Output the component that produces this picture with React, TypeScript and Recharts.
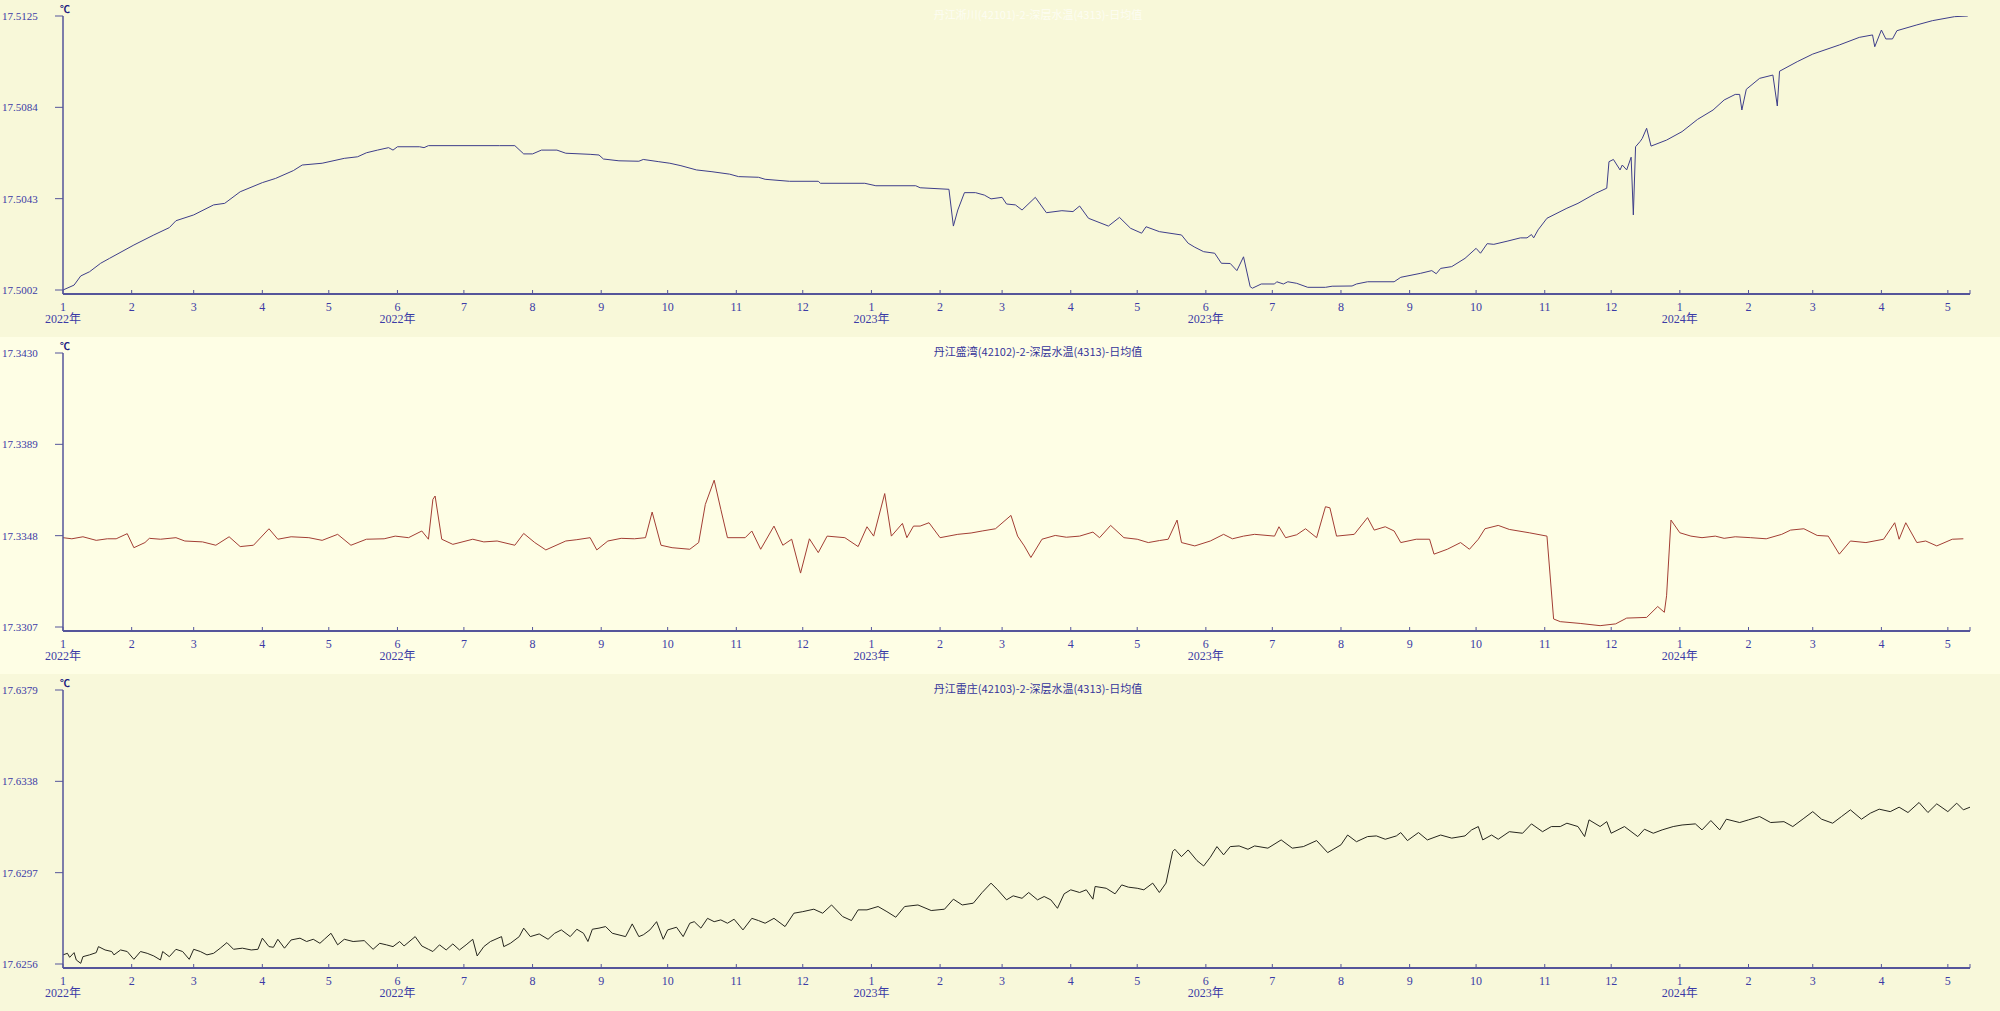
import React from 'react';
import { LineChart, Line, XAxis, YAxis } from 'recharts';

// day index = days since 2022-01-01
const monthDays = [0, 31, 59, 90, 120, 151, 181, 212, 243, 273, 304, 334, 365, 396, 424, 455, 485, 516, 546, 577, 608, 638, 669, 699, 730, 761, 790, 821, 851, 861];
const monthLabels = ['1', '2', '3', '4', '5', '6', '7', '8', '9', '10', '11', '12', '1', '2', '3', '4', '5', '6', '7', '8', '9', '10', '11', '12', '1', '2', '3', '4', '5', ''];
const yearLabels = ['2022年', '', '', '', '', '2022年', '', '', '', '', '', '', '2023年', '', '', '', '', '2023年', '', '', '', '', '', '', '2024年', '', '', '', '', ''];

const titles = [
  '丹江淅川(42101)-2-深层水温(4313)-日均值',
  '丹江盛湾(42102)-2-深层水温(4313)-日均值',
  '丹江雷庄(42103)-2-深层水温(4313)-日均值',
];

const topTicks = [17.5002, 17.5043, 17.5084, 17.5125];
const midTicks = [17.3307, 17.3348, 17.3389, 17.343];
const lowTicks = [17.6256, 17.6297, 17.6338, 17.6379];

const topDays = [0, 5, 8, 12, 17, 21, 32, 41, 48, 51, 59, 68, 73, 80, 90, 96, 104, 108, 117, 127, 133, 137, 142, 147, 149, 151, 161, 163, 165, 197, 204, 208, 212, 216, 223, 227, 238, 242, 244, 251, 260, 262, 269, 274, 279, 286, 293, 301, 305, 314, 317, 328, 341, 342, 362, 367, 385, 387, 400, 402, 404, 407, 412, 416, 419, 424, 426, 430, 433, 439, 444, 451, 456, 459, 463, 472, 477, 482, 487, 489, 495, 505, 508, 511, 515, 520, 523, 527, 530, 533, 536, 537, 541, 547, 548, 551, 553, 557, 562, 570, 573, 582, 584, 589, 601, 604, 613, 618, 620, 622, 627, 633, 638, 640, 643, 646, 652, 658, 661, 663, 664, 666, 670, 679, 684, 692, 697, 698, 700, 703, 704, 706, 708, 709, 710, 712, 713, 715, 717, 724, 731, 738, 745, 750, 755, 757, 758, 760, 766, 772, 774, 775, 783, 790, 802, 811, 817, 818, 821, 823, 826, 828, 837, 844, 854, 860];
const topValues = [17.5002, 17.50042, 17.50083, 17.50102, 17.5014, 17.50162, 17.50222, 17.50267, 17.503, 17.50331, 17.50357, 17.50402, 17.50409, 17.50461, 17.50502, 17.50521, 17.50556, 17.50581, 17.50589, 17.50611, 17.50618, 17.50636, 17.50648, 17.50659, 17.50648, 17.50663, 17.50663, 17.50659, 17.50668, 17.50668, 17.50668, 17.50631, 17.50631, 17.50648, 17.50648, 17.50634, 17.50629, 17.50626, 17.50608, 17.506, 17.50598, 17.50606, 17.50596, 17.50589, 17.50578, 17.50559, 17.50551, 17.5054, 17.50529, 17.50526, 17.50517, 17.50508, 17.50508, 17.50499, 17.50499, 17.50488, 17.50488, 17.50479, 17.50472, 17.50307, 17.50379, 17.50457, 17.50457, 17.50446, 17.50429, 17.50436, 17.50406, 17.50402, 17.50379, 17.50436, 17.50367, 17.50376, 17.50372, 17.50397, 17.50342, 17.50307, 17.50346, 17.50297, 17.50275, 17.50304, 17.50282, 17.50267, 17.5023, 17.50212, 17.50192, 17.50185, 17.5014, 17.50139, 17.50107, 17.50169, 17.50035, 17.50028, 17.50047, 17.50047, 17.50057, 17.50047, 17.50057, 17.5005, 17.50032, 17.50032, 17.50037, 17.50038, 17.50047, 17.50057, 17.50057, 17.50077, 17.50095, 17.50107, 17.50093, 17.50117, 17.50125, 17.50162, 17.50207, 17.50185, 17.50228, 17.50225, 17.50239, 17.50254, 17.50254, 17.50269, 17.50254, 17.5029, 17.50342, 17.50387, 17.50409, 17.50454, 17.50477, 17.50596, 17.50606, 17.50559, 17.50581, 17.50559, 17.50616, 17.50357, 17.50663, 17.50686, 17.507, 17.50746, 17.50666, 17.50693, 17.50731, 17.50786, 17.50828, 17.50873, 17.50898, 17.50898, 17.50828, 17.50921, 17.5097, 17.50985, 17.50846, 17.51002, 17.51045, 17.51079, 17.5112, 17.51154, 17.51165, 17.51112, 17.51187, 17.51147, 17.51147, 17.51184, 17.5121, 17.51229, 17.51247, 17.5125];

const midDays = [0, 4, 9, 15, 20, 24, 29, 32, 37, 39, 44, 51, 55, 63, 69, 75, 80, 86, 93, 97, 103, 111, 117, 124, 130, 137, 145, 150, 156, 162, 165, 167, 168, 171, 176, 185, 190, 196, 204, 208, 213, 218, 227, 232, 238, 241, 246, 252, 258, 263, 266, 270, 275, 283, 287, 290, 294, 297, 300, 308, 311, 315, 321, 325, 329, 333, 337, 341, 345, 353, 359, 363, 366, 371, 374, 379, 381, 384, 387, 391, 396, 404, 410, 415, 421, 428, 431, 434, 437, 442, 448, 453, 459, 465, 468, 473, 479, 485, 490, 495, 499, 503, 505, 511, 518, 524, 528, 533, 538, 547, 549, 552, 557, 561, 566, 570, 572, 575, 583, 589, 592, 597, 601, 604, 611, 617, 619, 625, 631, 635, 639, 642, 648, 653, 662, 670, 673, 676, 685, 694, 701, 706, 715, 720, 723, 724, 726, 730, 735, 740, 746, 750, 755, 762, 769, 776, 780, 786, 792, 797, 802, 807, 814, 822, 827, 829, 832, 837, 841, 846, 853, 858];
const midValues = [17.33471, 17.33466, 17.33475, 17.33459, 17.33466, 17.33466, 17.33489, 17.33426, 17.33449, 17.33468, 17.33464, 17.33471, 17.33456, 17.33452, 17.33437, 17.33475, 17.33431, 17.33437, 17.33511, 17.33464, 17.33475, 17.33471, 17.33459, 17.33486, 17.33437, 17.33464, 17.33466, 17.33478, 17.33471, 17.33501, 17.33464, 17.33643, 17.33658, 17.33464, 17.33441, 17.33464, 17.33452, 17.33456, 17.33437, 17.3349, 17.33449, 17.33416, 17.33456, 17.33462, 17.33471, 17.33416, 17.33456, 17.33468, 17.33466, 17.33471, 17.33586, 17.33437, 17.33426, 17.33419, 17.33449, 17.3362, 17.33729, 17.33598, 17.33471, 17.33471, 17.33501, 17.33419, 17.33523, 17.33437, 17.33464, 17.33312, 17.33466, 17.33404, 17.33478, 17.33471, 17.33431, 17.3352, 17.33478, 17.33669, 17.33478, 17.33535, 17.33471, 17.33523, 17.33523, 17.33538, 17.33471, 17.33486, 17.33492, 17.33501, 17.33511, 17.33571, 17.33478, 17.33434, 17.33382, 17.33464, 17.33481, 17.33473, 17.33478, 17.33496, 17.33471, 17.33526, 17.33471, 17.33464, 17.33449, 17.33458, 17.33464, 17.3355, 17.33449, 17.33434, 17.33456, 17.33486, 17.33466, 17.33478, 17.33486, 17.33478, 17.3352, 17.33471, 17.33484, 17.33511, 17.33471, 17.3361, 17.33605, 17.33478, 17.33486, 17.33561, 17.33505, 17.3352, 17.33501, 17.33449, 17.33464, 17.33464, 17.33397, 17.33419, 17.33449, 17.33419, 17.33464, 17.33511, 17.33526, 17.33508, 17.33493, 17.33478, 17.33106, 17.33094, 17.33086, 17.33076, 17.33084, 17.3311, 17.33113, 17.33162, 17.33136, 17.3321, 17.3355, 17.33493, 17.33478, 17.33471, 17.33478, 17.33468, 17.33475, 17.33471, 17.33466, 17.33486, 17.33505, 17.33511, 17.33481, 17.33478, 17.33397, 17.33456, 17.33449, 17.33464, 17.33538, 17.33464, 17.33538, 17.33449, 17.33456, 17.33434, 17.33464, 17.33466];

const lowDays = [0, 2, 3, 5, 6, 8, 9, 12, 15, 16, 19, 22, 23, 26, 29, 32, 35, 38, 41, 44, 45, 48, 51, 54, 57, 59, 62, 65, 68, 71, 74, 77, 81, 85, 88, 90, 93, 95, 97, 100, 103, 107, 110, 113, 116, 118, 121, 124, 127, 131, 136, 140, 143, 146, 149, 152, 154, 159, 162, 165, 167, 170, 173, 176, 179, 182, 185, 187, 190, 193, 198, 199, 202, 206, 208, 211, 215, 219, 222, 225, 229, 232, 235, 237, 239, 242, 245, 248, 254, 257, 260, 262, 265, 268, 271, 273, 277, 280, 283, 285, 288, 291, 294, 297, 300, 303, 307, 311, 314, 317, 321, 326, 330, 334, 339, 343, 347, 352, 356, 359, 363, 368, 372, 376, 380, 386, 392, 398, 402, 406, 411, 415, 419, 422, 426, 429, 433, 436, 440, 443, 446, 449, 452, 455, 459, 462, 465, 466, 471, 475, 478, 481, 485, 488, 492, 495, 498, 501, 502, 505, 508, 512, 515, 518, 521, 524, 527, 531, 535, 538, 544, 550, 555, 560, 566, 571, 577, 580, 584, 589, 593, 597, 602, 604, 607, 612, 616, 622, 627, 633, 636, 639, 641, 645, 648, 653, 659, 663, 668, 672, 676, 679, 684, 687, 689, 694, 697, 699, 705, 711, 714, 718, 722, 727, 731, 737, 740, 744, 748, 751, 757, 761, 766, 771, 777, 781, 786, 790, 794, 799, 803, 807, 812, 816, 820, 825, 829, 833, 838, 842, 846, 851, 855, 858, 861];
const lowValues = [17.62601, 17.62608, 17.6259, 17.62611, 17.62578, 17.62563, 17.62593, 17.62601, 17.62611, 17.62638, 17.62623, 17.62616, 17.62601, 17.62623, 17.62616, 17.62581, 17.62616, 17.62608, 17.62596, 17.62578, 17.62616, 17.62593, 17.62626, 17.62616, 17.62581, 17.62626, 17.62616, 17.62601, 17.62608, 17.62631, 17.62656, 17.62626, 17.62631, 17.62623, 17.62626, 17.62676, 17.62638, 17.62635, 17.62671, 17.62631, 17.62668, 17.62676, 17.62661, 17.62671, 17.62653, 17.62671, 17.62698, 17.62646, 17.62671, 17.62661, 17.62665, 17.62626, 17.62653, 17.62646, 17.62638, 17.62661, 17.62641, 17.62683, 17.62641, 17.62626, 17.62616, 17.62646, 17.62623, 17.6265, 17.62623, 17.62646, 17.62671, 17.62596, 17.62638, 17.62661, 17.62683, 17.62638, 17.62653, 17.62683, 17.62721, 17.62683, 17.62695, 17.62671, 17.62698, 17.62713, 17.62683, 17.62716, 17.62698, 17.62661, 17.62716, 17.62721, 17.62728, 17.62698, 17.62683, 17.6274, 17.62683, 17.62691, 17.62713, 17.6275, 17.62671, 17.62713, 17.62725, 17.62683, 17.62743, 17.6275, 17.62721, 17.62765, 17.6275, 17.62758, 17.62743, 17.62761, 17.62713, 17.62765, 17.62755, 17.62743, 17.62765, 17.62728, 17.62788, 17.62795, 17.62806, 17.62788, 17.62825, 17.62773, 17.62755, 17.62803, 17.62803, 17.62818, 17.62795, 17.6277, 17.62818, 17.62825, 17.628, 17.62806, 17.62851, 17.62825, 17.62833, 17.62881, 17.62923, 17.62893, 17.62848, 17.62866, 17.62855, 17.62881, 17.62848, 17.62863, 17.62848, 17.6281, 17.62875, 17.62893, 17.62881, 17.62893, 17.62851, 17.62908, 17.629, 17.62875, 17.62915, 17.62905, 17.629, 17.62893, 17.62923, 17.62881, 17.62923, 17.63065, 17.63075, 17.63042, 17.63072, 17.63024, 17.63, 17.63039, 17.63087, 17.6305, 17.63087, 17.6309, 17.63075, 17.6309, 17.6308, 17.63117, 17.6308, 17.63087, 17.63114, 17.6306, 17.63095, 17.63139, 17.63109, 17.63132, 17.63135, 17.6312, 17.63135, 17.6315, 17.63114, 17.6315, 17.63117, 17.63139, 17.63125, 17.63135, 17.63162, 17.63177, 17.63117, 17.63139, 17.6312, 17.63154, 17.63147, 17.63189, 17.63154, 17.63177, 17.63177, 17.63192, 17.63177, 17.63132, 17.63207, 17.63177, 17.63199, 17.63147, 17.63177, 17.63132, 17.63165, 17.63147, 17.63162, 17.63177, 17.63184, 17.63189, 17.63162, 17.63204, 17.63162, 17.6321, 17.63195, 17.63207, 17.63222, 17.63195, 17.63199, 17.63177, 17.63214, 17.63244, 17.6321, 17.63192, 17.63222, 17.63252, 17.6321, 17.63237, 17.63255, 17.63244, 17.63264, 17.6324, 17.63285, 17.6324, 17.63279, 17.63244, 17.63282, 17.63252, 17.63264];

const AXIS = '#55559a';
const LABEL = '#3b3ba6';
const W = 2000;
const H = 337;

function MonthTick(props: any) {
  const { x, y, payload } = props;
  const i = monthDays.indexOf(payload.value);
  return (
    <g>
      <line x1={x} x2={x} y1={y - 4} y2={y} stroke={AXIS} strokeWidth={1} />
      <text x={x} y={y + 17} textAnchor="middle" fill={LABEL} fontSize={12} fontFamily="'Liberation Serif', serif">
        {monthLabels[i]}
      </text>
      {yearLabels[i] && (
        <text x={x} y={y + 29} textAnchor="middle" fill={LABEL} fontSize={12} fontFamily="'Liberation Serif', 'Noto Sans CJK SC', serif">
          {yearLabels[i]}
        </text>
      )}
    </g>
  );
}

function ValueTick(props: any) {
  const { x, y, payload } = props;
  return (
    <g>
      <line x1={x - 8} x2={x} y1={y} y2={y} stroke={AXIS} strokeWidth={1} />
      <text x={2} y={y + 4} textAnchor="start" fill={LABEL} fontSize={11} fontFamily="'Liberation Serif', serif">
        {Number(payload.value).toFixed(4)}
      </text>
    </g>
  );
}

interface PanelProps {
  top: number;
  bg: string;
  title: string;
  titleColor: string;
  days: number[];
  values: number[];
  ticks: number[];
  color: string;
}

function Panel({ top, bg, title, titleColor, days, values, ticks, color }: PanelProps) {
  const data = days.map((d, i) => ({ day: d, v: values[i] }));
  const step = (ticks[3] - ticks[0]) / 274;
  const lo = ticks[0] - step * 4;
  return (
    <div style={{ position: 'absolute', left: 0, top, width: W, height: H, background: bg }}>
      <LineChart width={W} height={H} data={data} margin={{ top: 16, right: 30, left: 0, bottom: 0 }}>
        <XAxis
          dataKey="day"
          type="number"
          domain={[0, 861]}
          ticks={monthDays}
          interval={0}
          height={43}
          tickSize={0}
          tickMargin={0}
          tickLine={false}
          axisLine={{ stroke: AXIS, strokeWidth: 2 }}
          tick={<MonthTick />}
        />
        <YAxis
          type="number"
          domain={[lo, ticks[3]]}
          ticks={ticks}
          interval={0}
          width={63}
          tickSize={0}
          tickMargin={0}
          tickLine={false}
          axisLine={{ stroke: AXIS, strokeWidth: 1.5 }}
          tick={<ValueTick />}
          allowDataOverflow
        />
        <Line type="linear" dataKey="v" stroke={color} strokeWidth={1} dot={false} isAnimationActive={false} />
      </LineChart>
      <div style={{ position: 'absolute', left: 60, top: 1, fontSize: 10, fontWeight: 'bold', color: '#1a1a80', fontFamily: "'Noto Sans CJK SC', sans-serif" }}>℃</div>
      <div
        style={{
          position: 'absolute',
          left: 0,
          width: 2076,
          top: 6,
          textAlign: 'center',
          fontSize: 11,
          color: titleColor,
          fontFamily: "'Noto Sans CJK SC', sans-serif",
          whiteSpace: 'nowrap',
        }}
      >
        {title}
      </div>
    </div>
  );
}

export default function App() {
  return (
    <div style={{ position: 'absolute', left: 0, top: 0, width: W, height: 1011, overflow: 'hidden', background: '#f8f8da' }}>
      <Panel top={0} bg="#f8f8d9" title={titles[0]} titleColor="#fdfdf2" days={topDays} values={topValues} ticks={topTicks} color="#3e3e8a" />
      <Panel top={337} bg="#fefee5" title={titles[1]} titleColor="#35359a" days={midDays} values={midValues} ticks={midTicks} color="#a23e34" />
      <Panel top={674} bg="#f8f8da" title={titles[2]} titleColor="#35359a" days={lowDays} values={lowValues} ticks={lowTicks} color="#26261e" />
    </div>
  );
}
